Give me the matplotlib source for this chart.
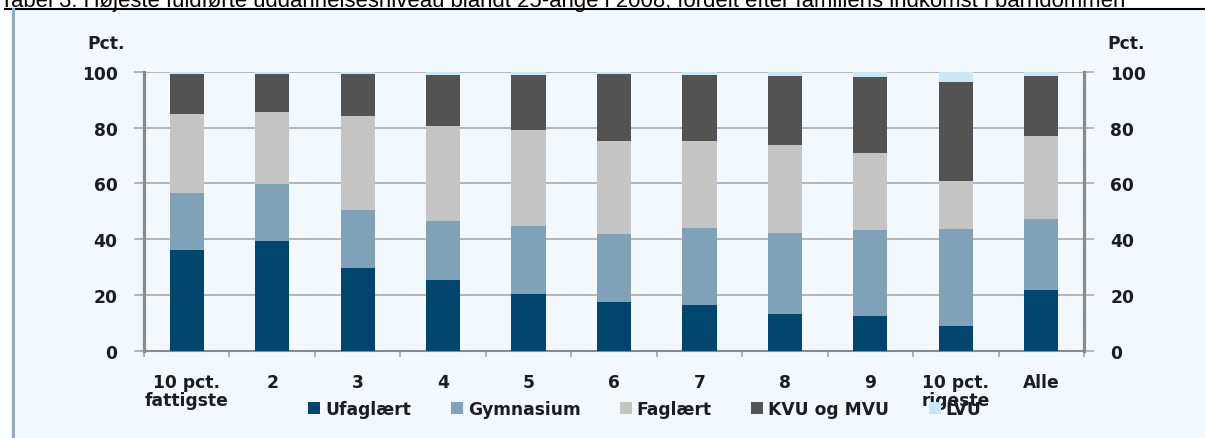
import matplotlib

matplotlib.use("Agg")
import matplotlib.pyplot as plt
from matplotlib.lines import Line2D
from matplotlib.patches import Rectangle
import numpy as np

# --- Data (pct.) ---
categories = ["10 pct.\nfattigste", "2", "3", "4", "5", "6", "7", "8", "9",
              "10 pct.\nrigeste", "Alle"]
ufaglaert = [36.2, 39.4, 29.7, 25.5, 20.4, 17.4, 16.5, 13.2, 12.6, 9.0, 21.9]
gymnasium = [20.3, 20.4, 20.9, 21.2, 24.5, 24.5, 27.4, 29.2, 30.8, 34.6, 25.5]
faglaert = [28.2, 25.8, 33.4, 33.9, 34.3, 33.3, 31.3, 31.4, 27.6, 17.3, 29.6]
kvu_mvu = [14.6, 13.7, 15.3, 18.2, 19.6, 23.8, 23.6, 24.5, 27.1, 35.3, 21.6]
lvu = [0.7, 0.7, 0.7, 1.2, 1.2, 1.0, 1.2, 1.7, 1.9, 3.8, 1.4]

series = [("Ufaglært", ufaglaert, "#00466e"),
          ("Gymnasium", gymnasium, "#80a2b8"),
          ("Faglært", faglaert, "#c5c5c5"),
          ("KVU og MVU", kvu_mvu, "#535353"),
          ("LVU", lvu, "#c8e8f8")]

title = ("Tabel 3. Højeste fuldførte uddannelsesniveau blandt 25-årige i 2008, "
         "fordelt efter familiens indkomst i barndommen")

BG = "#f3f8fd"
TXT = "#1c1c24"
GRID = "#a3a3a3"
FS = 12.3
FONT = dict(family="DejaVu Sans", weight="bold", size=FS, color=TXT)

W, H = 1205, 439
fig = plt.figure(figsize=(W / 100, H / 100), dpi=100)
fig.patch.set_facecolor("white")

# panel-baggrund, kant foroven og blå kant til venstre
fig.add_artist(Rectangle((11 / W, 0), 1 - 11 / W, 1 - 10 / H,
                         transform=fig.transFigure, facecolor=BG,
                         edgecolor="none", zorder=0))
fig.add_artist(Line2D([5 / W, 1], [1 - 10 / H, 1 - 10 / H],
                      transform=fig.transFigure, color="black", lw=1.5))
fig.add_artist(Line2D([12.5 / W, 12.5 / W], [0, 1 - 10 / H],
                      transform=fig.transFigure, color="#8eadc3", lw=2.2))
# overskriften er beskåret i toppen, som i originalen
fig.text(0.0, 1 - 7 / H, title, family="Liberation Sans", size=15.9,
         color="black", va="baseline", ha="left")

ax = fig.add_axes([144 / W, 87 / H, 940 / W, 279.3 / H])
ax.set_facecolor(BG)

x = np.arange(len(categories))
bottom = np.zeros(len(categories))
for name, vals, col in series:
    ax.bar(x, vals, width=0.4, bottom=bottom, color=col, label=name,
           zorder=3, edgecolor="none")
    bottom += np.array(vals)

ax.set_xlim(-0.5, len(categories) - 0.5)
ax.set_ylim(0, 100)
ax.set_yticks([0, 20, 40, 60, 80, 100])
ax.yaxis.grid(True, color=GRID, lw=1.1, zorder=1)
ax.set_axisbelow(True)

ax.set_xticks(x)
ax.set_xticklabels(categories, linespacing=1.0, **FONT)
ax.set_xticks(np.arange(-0.5, len(categories)), minor=True)
ax.tick_params(axis="x", which="major", length=0, pad=16)
ax.tick_params(axis="x", which="minor", length=4, width=1.2, color=GRID)
ax.tick_params(axis="y", length=7, width=1.1, color=GRID, pad=12,
               left=True, right=True, labelleft=True, labelright=True)
for lab in ax.get_yticklabels():
    lab.set(**FONT)

for side in ["left", "right"]:
    ax.spines[side].set_color("#8a8a8a")
    ax.spines[side].set_linewidth(2.3)
ax.spines["bottom"].set_color("#8a8a8a")
ax.spines["bottom"].set_linewidth(1.5)
ax.spines["top"].set_visible(False)

fig.text(125 / W, 1 - 44 / H, "Pct.", ha="right", va="center", **FONT)
fig.text(1107 / W, 1 - 44 / H, "Pct.", ha="left", va="center", **FONT)

leg = fig.legend(loc="center", bbox_to_anchor=(645 / W, 1 - 410 / H), ncol=5,
                 frameon=False, handlelength=0.7, handleheight=0.7,
                 handletextpad=0.3, columnspacing=2.3,
                 prop=dict(family="DejaVu Sans", weight="bold", size=FS))
for t in leg.get_texts():
    t.set_color(TXT)

fig.savefig("out.png", dpi=100, facecolor=fig.get_facecolor())
